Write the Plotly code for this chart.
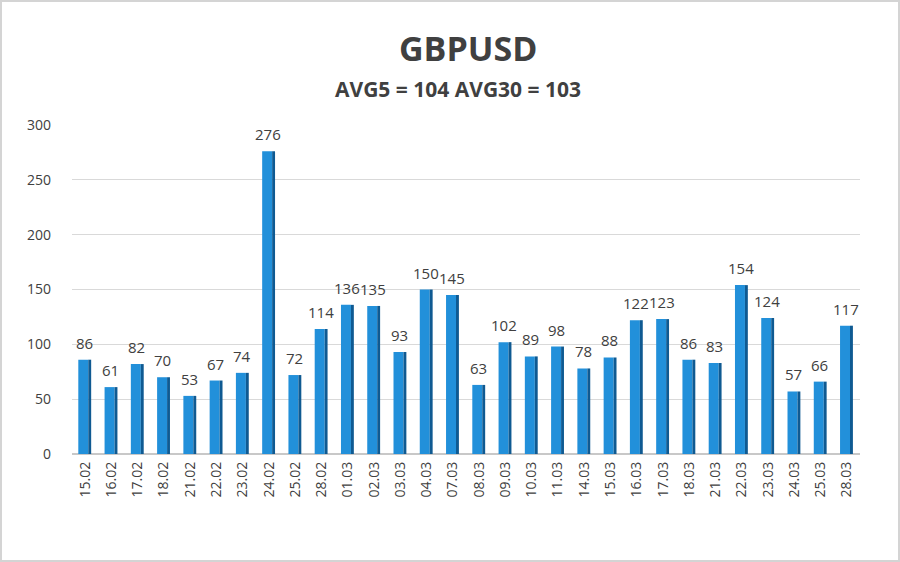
import plotly.graph_objects as go

dates = ["15.02","16.02","17.02","18.02","21.02","22.02","23.02","24.02","25.02","28.02",
         "01.03","02.03","03.03","04.03","07.03","08.03","09.03","10.03","11.03","14.03",
         "15.03","16.03","17.03","18.03","21.03","22.03","23.03","24.03","25.03","28.03"]
values = [86,61,82,70,53,67,74,276,72,114,136,135,93,150,145,63,102,89,98,78,
          88,122,123,86,83,154,124,57,66,117]
y_ticks = [0, 50, 100, 150, 200, 250, 300]

W, H = 900, 562
L, R, T, B = 72, 40, 125, 108
pw, ph = W - L - R, H - T - B

def px_x(p):
    return (p - L) / pw

def px_y(p):
    return (H - B - p) / ph

FONT = "Open Sans"
TXT = "#404040"

fig = go.Figure()
fig.add_trace(go.Bar(
    x=dates, y=values, width=0.38, offset=-0.26,
    marker=dict(color="#2290da", line=dict(width=0)),
    cliponaxis=False, hoverinfo="x+y",
))
fig.add_trace(go.Bar(
    x=dates, y=values, width=0.11, offset=0.12,
    marker=dict(color="#0f5a92", line=dict(width=0)),
    hoverinfo="skip",
))

annotations = [
    dict(text="<b>GBPUSD</b>", xref="paper", yref="paper", x=px_x(468), y=px_y(48),
         showarrow=False, font=dict(family=FONT, size=34, color=TXT), xanchor="center", yanchor="middle"),
    dict(text="<b>AVG5 = 104 AVG30 = 103</b>", xref="paper", yref="paper", x=px_x(458), y=px_y(89),
         showarrow=False, font=dict(family=FONT, size=21, color=TXT), xanchor="center", yanchor="middle"),
]
for i, v in enumerate(values):
    annotations.append(dict(text=str(v), x=i, y=v, xref="x", yref="y", showarrow=False,
                            xanchor="center", yanchor="middle", yshift=17, xshift=-1,
                            font=dict(family=FONT, size=15, color=TXT)))

fig.update_layout(
    width=W, height=H, barmode="overlay", showlegend=False,
    margin=dict(l=L, r=R, t=T, b=B),
    paper_bgcolor="white", plot_bgcolor="white",
    font=dict(family=FONT, color=TXT),
    xaxis=dict(type="category", tickangle=-90, showgrid=False, showline=False,
               ticks="", tickfont=dict(family=FONT, size=14, color=TXT),
               range=[-0.5, len(dates) - 0.5], ticklabelstandoff=4),
    yaxis=dict(range=[0, 300], tickvals=y_ticks, showgrid=True, gridcolor="#d9d9d9",
               gridwidth=1, zeroline=True, zerolinecolor="#c8c8c8", zerolinewidth=2,
               ticks="", tickfont=dict(family=FONT, size=14, color=TXT), ticklabelstandoff=20),
    annotations=annotations,
    shapes=[
        dict(type="rect", xref="paper", yref="paper", x0=px_x(1), x1=px_x(899), y0=px_y(561), y1=px_y(1),
             line=dict(color="#d4d4d4", width=2), fillcolor="rgba(0,0,0,0)", layer="above"),
    ],
)
fig.write_html("out.html", config={"displayModeBar": False},
               post_script="document.body.style.margin='0';document.body.style.overflow='hidden';")
